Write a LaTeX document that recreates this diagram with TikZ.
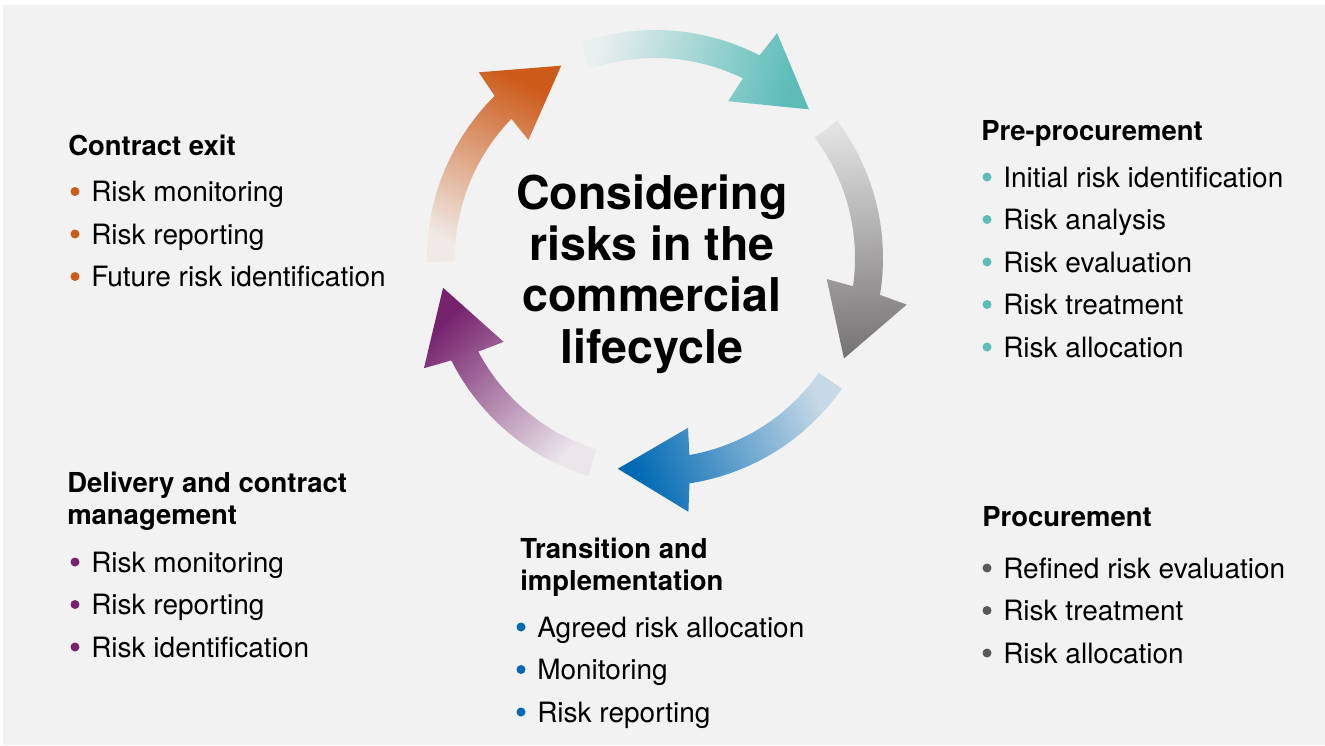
\documentclass[tikz,border=0pt]{standalone}
\usepackage{fontspec}
\setmainfont{TeX Gyre Heros}
\usetikzlibrary{positioning, calc}

\definecolor{bgc}{HTML}{F2F2F2}
\definecolor{tealc}{HTML}{5BBCB8}
\definecolor{grayc}{HTML}{777475}
\definecolor{bluec}{HTML}{0069B4}
\definecolor{purpc}{HTML}{76226D}
\definecolor{orgc}{HTML}{CC5A18}
\definecolor{dotgray}{HTML}{58585A}

\begin{document}
\begin{tikzpicture}[
    x=0.75pt, y=-0.75pt,
    node distance=31.875pt,
    headtext/.style={font=\fontsize{20.6pt}{23.6pt}\selectfont\bfseries, inner sep=0pt, anchor=base west, align=left},
    itemtext/.style={font=\fontsize{21pt}{24pt}\selectfont, inner sep=0pt, anchor=base west},
    hubtext/.style={font=\fontsize{34.9pt}{38.5pt}\selectfont\bfseries, inner sep=0pt, align=center, anchor=base}
]
    % Background
    \useasboundingbox (0,0) rectangle (1325,746);
    \fill[white] (0,0) rectangle (1325,746);
    \fill[bgc] (3,5) rectangle (1325,745);

    % Cycle arrows
    \coordinate (ctr) at (655,258);
    \begin{scope}[shift={(ctr)}, x=0.75pt, y=0.75pt]
        \foreach \t/\c/\l/\a in {44/tealc/5/75, -28/grayc/12/4, -100/bluec/18/293, -172/purpc/6/224, 116/orgc/6/155}
            \shade[top color=\c!\l!bgc, bottom color=\c, shading angle=\a]
                ({\t+65}:228) arc[start angle=\t+65, end angle=\t+18.7, radius=228]
                -- ({\t+17.5}:256) -- (\t:214) -- ({\t+21}:173) -- ({\t+19.9}:200)
                arc[start angle=\t+19.9, end angle=\t+65, radius=200] -- cycle;
    \end{scope}

    % Centre
    \node[hubtext] (hub) at (652,363) {Considering\\risks in the\\commercial\\lifecycle};

    % Pre-procurement
    \node[headtext] (pre) at (981,140) {Pre-procurement};
    \node[below=35.25pt of pre.base west, xshift=16.5pt, itemtext] (pre1) {Initial risk identification};
    \node[below=of pre1.base west, itemtext] (pre2) {Risk analysis};
    \node[below=of pre2.base west, itemtext] (pre3) {Risk evaluation};
    \node[below=of pre3.base west, itemtext] (pre4) {Risk treatment};
    \node[below=of pre4.base west, itemtext] (pre5) {Risk allocation};

    % Procurement
    \node[headtext] (proc) at (982,526) {Procurement};
    \node[below=39pt of proc.base west, xshift=15.75pt, itemtext] (proc1) {Refined risk evaluation};
    \node[below=of proc1.base west, itemtext] (proc2) {Risk treatment};
    \node[below=of proc2.base west, itemtext] (proc3) {Risk allocation};

    % Transition and implementation
    \node[headtext] (trans) at (520,590) {Transition and\\implementation};
    \node[below=35.25pt of trans.base west, xshift=12.75pt, itemtext] (trans1) {Agreed risk allocation};
    \node[below=of trans1.base west, itemtext] (trans2) {Monitoring};
    \node[below=of trans2.base west, itemtext] (trans3) {Risk reporting};

    % Delivery and contract management
    \node[headtext] (deliv) at (67,524) {Delivery and contract\\management};
    \node[below=36pt of deliv.base west, xshift=18pt, itemtext] (deliv1) {Risk monitoring};
    \node[below=of deliv1.base west, itemtext] (deliv2) {Risk reporting};
    \node[below=of deliv2.base west, itemtext] (deliv3) {Risk identification};

    % Contract exit
    \node[headtext] (exit) at (68,155) {Contract exit};
    \node[below=34.875pt of exit.base west, xshift=17.25pt, itemtext] (exit1) {Risk monitoring};
    \node[below=of exit1.base west, itemtext] (exit2) {Risk reporting};
    \node[below=of exit2.base west, itemtext] (exit3) {Future risk identification};

    % Bullets
    \foreach \n in {pre1,pre2,pre3,pre4,pre5}
        \fill[tealc] ($(\n.base west)+(-16,-10)$) circle (4.5);
    \foreach \n in {proc1,proc2,proc3}
        \fill[dotgray] ($(\n.base west)+(-16,-10)$) circle (4.5);
    \foreach \n in {trans1,trans2,trans3}
        \fill[bluec] ($(\n.base west)+(-16,-10)$) circle (4.5);
    \foreach \n in {deliv1,deliv2,deliv3}
        \fill[purpc] ($(\n.base west)+(-16,-10)$) circle (4.5);
    \foreach \n in {exit1,exit2,exit3}
        \fill[orgc] ($(\n.base west)+(-16,-10)$) circle (4.5);
\end{tikzpicture}
\end{document}
